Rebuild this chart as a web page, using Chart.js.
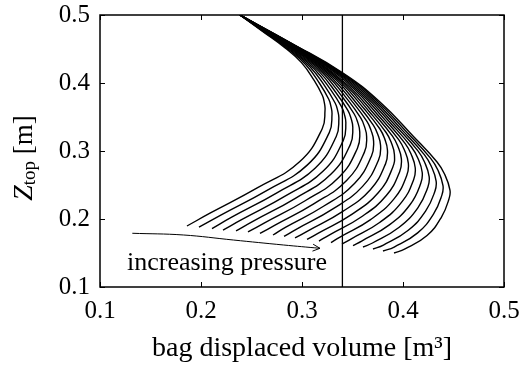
<!DOCTYPE html>
<html><head><meta charset="utf-8">
<script src="https://cdn.jsdelivr.net/npm/chart.js@4"></script>
<style>html,body{margin:0;padding:0;background:#fff;} canvas{display:block;}</style>
</head><body>
<canvas id="c" width="523" height="365"></canvas>
<script>
// ---- data ----
const xTickValues = [0.1, 0.2, 0.3, 0.4, 0.5];
const yTickValues = [0.1, 0.2, 0.3, 0.4, 0.5];

// one curve per pressure level: [bag displaced volume, Z_top]
const curve01 = [[0.2386,0.5],[0.2610,0.4759],[0.2833,0.4516],[0.2995,0.4300],[0.3122,0.4034],[0.3202,0.3815],[0.3220,0.3718],[0.3228,0.3603],[0.3200,0.3328],[0.2976,0.2841],[0.2561,0.2460],[0.2089,0.2085],[0.1861,0.1897]];
const curve02 = [[0.2386,0.5],[0.2626,0.4749],[0.2865,0.4496],[0.3038,0.4268],[0.3176,0.3989],[0.3265,0.3761],[0.3286,0.3659],[0.3297,0.3538],[0.3270,0.3271],[0.3054,0.2796],[0.2654,0.2421],[0.2196,0.2056],[0.1980,0.1882]];
const curve03 = [[0.2386,0.5],[0.2642,0.4739],[0.2897,0.4475],[0.3081,0.4236],[0.3231,0.3944],[0.3328,0.3706],[0.3352,0.3601],[0.3365,0.3472],[0.3339,0.3213],[0.3132,0.2751],[0.2747,0.2382],[0.2304,0.2027],[0.2109,0.1860]];
const curve04 = [[0.2386,0.5],[0.2659,0.4729],[0.2928,0.4455],[0.3125,0.4203],[0.3285,0.3899],[0.3391,0.3652],[0.3419,0.3542],[0.3434,0.3407],[0.3409,0.3156],[0.3210,0.2706],[0.2841,0.2343],[0.2411,0.1997],[0.2218,0.1838]];
const curve05 = [[0.2386,0.5],[0.2675,0.4719],[0.2960,0.4434],[0.3168,0.4171],[0.3339,0.3853],[0.3454,0.3598],[0.3485,0.3483],[0.3503,0.3341],[0.3479,0.3098],[0.3288,0.2661],[0.2934,0.2304],[0.2518,0.1968],[0.2347,0.1824]];
const curve06 = [[0.2386,0.5],[0.2691,0.4710],[0.2992,0.4414],[0.3211,0.4139],[0.3393,0.3808],[0.3517,0.3544],[0.3551,0.3425],[0.3572,0.3276],[0.3549,0.3041],[0.3366,0.2615],[0.3027,0.2265],[0.2625,0.1939],[0.2465,0.1809]];
const curve07 = [[0.2386,0.5],[0.2707,0.4700],[0.3024,0.4393],[0.3254,0.4107],[0.3448,0.3763],[0.3580,0.3489],[0.3617,0.3366],[0.3640,0.3211],[0.3618,0.2983],[0.3444,0.2570],[0.3120,0.2226],[0.2733,0.1910],[0.2584,0.1787]];
const curve08 = [[0.2386,0.5],[0.2723,0.4690],[0.3056,0.4373],[0.3297,0.4075],[0.3502,0.3718],[0.3643,0.3435],[0.3683,0.3307],[0.3709,0.3145],[0.3688,0.2926],[0.3522,0.2525],[0.3213,0.2187],[0.2840,0.1880],[0.2713,0.1765]];
const curve09 = [[0.2386,0.5],[0.2739,0.4680],[0.3088,0.4352],[0.3340,0.4043],[0.3556,0.3673],[0.3706,0.3381],[0.3749,0.3249],[0.3778,0.3080],[0.3758,0.2868],[0.3600,0.2480],[0.3306,0.2148],[0.2947,0.1851],[0.2822,0.1743]];
const curve10 = [[0.2386,0.5],[0.2756,0.4670],[0.3119,0.4332],[0.3384,0.4010],[0.3611,0.3628],[0.3770,0.3327],[0.3816,0.3190],[0.3846,0.3015],[0.3827,0.2811],[0.3679,0.2435],[0.3400,0.2108],[0.3055,0.1822],[0.2931,0.1721]];
const curve11 = [[0.2386,0.5],[0.2772,0.4660],[0.3151,0.4311],[0.3427,0.3978],[0.3665,0.3582],[0.3833,0.3272],[0.3882,0.3131],[0.3915,0.2949],[0.3897,0.2754],[0.3757,0.2390],[0.3493,0.2069],[0.3162,0.1793],[0.3050,0.1699]];
const curve12 = [[0.2386,0.5],[0.2788,0.4650],[0.3183,0.4291],[0.3470,0.3946],[0.3719,0.3537],[0.3896,0.3218],[0.3948,0.3073],[0.3984,0.2884],[0.3967,0.2696],[0.3835,0.2345],[0.3586,0.2030],[0.3269,0.1764],[0.3168,0.1676]];
const curve13 = [[0.2386,0.5],[0.2804,0.4640],[0.3215,0.4270],[0.3513,0.3914],[0.3773,0.3492],[0.3959,0.3164],[0.4014,0.3014],[0.4053,0.2818],[0.4037,0.2639],[0.3913,0.2300],[0.3679,0.1991],[0.3376,0.1734],[0.3287,0.1654]];
const curve14 = [[0.2386,0.5],[0.2820,0.4630],[0.3247,0.4250],[0.3556,0.3882],[0.3828,0.3447],[0.4022,0.3109],[0.4080,0.2955],[0.4121,0.2753],[0.4106,0.2581],[0.3991,0.2255],[0.3772,0.1952],[0.3484,0.1705],[0.3396,0.1632]];
const curve15 = [[0.2386,0.5],[0.2836,0.4621],[0.3279,0.4229],[0.3599,0.3850],[0.3882,0.3402],[0.4085,0.3055],[0.4146,0.2897],[0.4190,0.2688],[0.4176,0.2524],[0.4069,0.2209],[0.3865,0.1913],[0.3591,0.1676],[0.3505,0.1610]];
const curve16 = [[0.2386,0.5],[0.2853,0.4611],[0.3310,0.4209],[0.3643,0.3817],[0.3936,0.3356],[0.4148,0.3001],[0.4213,0.2838],[0.4259,0.2622],[0.4246,0.2466],[0.4147,0.2164],[0.3959,0.1874],[0.3698,0.1647],[0.3604,0.1588]];
const curve17 = [[0.2386,0.5],[0.2869,0.4601],[0.3342,0.4188],[0.3686,0.3785],[0.3990,0.3311],[0.4211,0.2947],[0.4279,0.2779],[0.4328,0.2557],[0.4316,0.2409],[0.4225,0.2119],[0.4052,0.1835],[0.3806,0.1617],[0.3703,0.1559]];
const curve18 = [[0.2386,0.5],[0.2885,0.4591],[0.3374,0.4168],[0.3729,0.3753],[0.4045,0.3266],[0.4274,0.2892],[0.4345,0.2721],[0.4396,0.2491],[0.4385,0.2351],[0.4303,0.2074],[0.4145,0.1796],[0.3913,0.1588],[0.3802,0.1529]];
const curve19 = [[0.2386,0.5],[0.2901,0.4581],[0.3406,0.4147],[0.3772,0.3721],[0.4099,0.3221],[0.4337,0.2838],[0.4411,0.2662],[0.4465,0.2426],[0.4455,0.2294],[0.4381,0.2029],[0.4238,0.1757],[0.4020,0.1559],[0.3911,0.1500]];

const limitLineX = [0.34, 0.34];
const limitLineY = [0.1, 0.5];

const arrowPath = [[0.1320,0.1790],[0.1825,0.1765],[0.2320,0.1691],[0.2815,0.1618],[0.3178,0.1569]];
const arrowLabel = 'increasing pressure';
const arrowLabelPos = [0.2257, 0.125];

const xTitle = 'bag displaced volume [m\u00B3]';
const yTitleMain = 'Z', yTitleSub = 'top', yTitleUnit = ' [m]';

// ---- chart ----
const serif = '"Liberation Serif", "Times New Roman", serif';
const curves = [curve01,curve02,curve03,curve04,curve05,curve06,curve07,curve08,curve09,curve10,
                curve11,curve12,curve13,curve14,curve15,curve16,curve17,curve18,curve19];

const toXY = arr => arr.map(p => ({x: p[0], y: p[1]}));
const datasets = curves.map(c => ({
  data: toXY(c), borderColor: '#000', borderWidth: 1.4, pointRadius: 0,
  tension: 0.45, fill: false
}));
datasets.push({
  data: limitLineY.map((v, i) => ({x: limitLineX[i], y: v})),
  borderColor: '#000', borderWidth: 1.3, pointRadius: 0, tension: 0, fill: false
});
datasets.push({
  data: toXY(arrowPath), borderColor: '#000', borderWidth: 1, pointRadius: 0,
  tension: 0.4, fill: false
});

const decor = {
  id: 'decor',
  afterDatasetsDraw(chart) {
    const {ctx, chartArea: a} = chart;
    const xs = chart.scales.x, ys = chart.scales.y;
    ctx.save();
    ctx.strokeStyle = '#000';
    // frame
    ctx.lineWidth = 1.5;
    ctx.strokeRect(a.left, a.top, a.right - a.left, a.bottom - a.top);
    // inward ticks
    ctx.lineWidth = 1;
    const L = 5;
    ctx.beginPath();
    xs.ticks.forEach(t => {
      const px = Math.round(xs.getPixelForValue(t.value)) + 0.5;
      ctx.moveTo(px, a.bottom); ctx.lineTo(px, a.bottom - L);
      ctx.moveTo(px, a.top); ctx.lineTo(px, a.top + L);
    });
    ys.ticks.forEach(t => {
      const py = Math.round(ys.getPixelForValue(t.value)) + 0.5;
      ctx.moveTo(a.left, py); ctx.lineTo(a.left + L, py);
      ctx.moveTo(a.right, py); ctx.lineTo(a.right - L, py);
    });
    ctx.stroke();
    // arrow head
    const n = arrowPath.length;
    const x1 = xs.getPixelForValue(arrowPath[n-2][0]), y1 = ys.getPixelForValue(arrowPath[n-2][1]);
    const x2 = xs.getPixelForValue(arrowPath[n-1][0]), y2 = ys.getPixelForValue(arrowPath[n-1][1]);
    const ang = Math.atan2(y2 - y1, x2 - x1);
    const hl = 8, ha = 0.45;
    ctx.beginPath();
    ctx.moveTo(x2 - hl * Math.cos(ang - ha), y2 - hl * Math.sin(ang - ha));
    ctx.lineTo(x2, y2);
    ctx.lineTo(x2 - hl * Math.cos(ang + ha), y2 - hl * Math.sin(ang + ha));
    ctx.stroke();
    // annotation text
    ctx.fillStyle = '#000';
    ctx.font = '26px ' + serif;
    ctx.textAlign = 'center';
    ctx.textBaseline = 'alphabetic';
    ctx.fillText(arrowLabel, xs.getPixelForValue(arrowLabelPos[0]), ys.getPixelForValue(arrowLabelPos[1]));
    // y axis title with subscript
    ctx.translate(32, (a.top + a.bottom) / 2 + 7);
    ctx.rotate(-Math.PI / 2);
    ctx.textAlign = 'left';
    const fMain = 'italic 28px ' + serif, fSub = '19px ' + serif, fUnit = '27px ' + serif;
    ctx.font = fMain; const w1 = ctx.measureText(yTitleMain).width;
    ctx.font = fSub; const w2 = ctx.measureText(yTitleSub).width;
    ctx.font = fUnit; const w3 = ctx.measureText(yTitleUnit).width;
    let x0 = -(w1 + w2 + w3) / 2;
    ctx.font = fMain; ctx.fillText(yTitleMain, x0, 0); x0 += w1;
    ctx.font = fSub; ctx.fillText(yTitleSub, x0, 3); x0 += w2;
    ctx.font = fUnit; ctx.fillText(yTitleUnit, x0, 0);
    ctx.restore();
  }
};

new Chart(document.getElementById('c'), {
  type: 'line',
  data: {datasets},
  options: {
    responsive: false,
    devicePixelRatio: 1,
    animation: false,
    events: [],
    layout: {padding: {top: 15, right: 19, left: 0, bottom: 0}},
    plugins: {legend: {display: false}, tooltip: {enabled: false}},
    scales: {
      x: {
        type: 'linear', min: 0.1, max: 0.5,
        afterBuildTicks: s => { s.ticks = xTickValues.map(v => ({value: v})); },
        ticks: {color: '#000', font: {family: serif, size: 25}, padding: 9,
                callback: v => Number(v).toFixed(1), maxRotation: 0},
        grid: {display: false, drawTicks: false},
        border: {display: false},
        title: {display: true, text: xTitle, color: '#000', font: {family: serif, size: 28},
                padding: {top: 0, bottom: 0}},
        afterFit: s => { s.height = 78; s.paddingLeft = 0; s.paddingRight = 0; }
      },
      y: {
        type: 'linear', min: 0.1, max: 0.5,
        afterBuildTicks: s => { s.ticks = yTickValues.map(v => ({value: v})); },
        ticks: {color: '#000', font: {family: serif, size: 25}, padding: 10,
                callback: v => Number(v).toFixed(1)},
        grid: {display: false, drawTicks: false},
        border: {display: false},
        afterFit: s => { s.width = 100; s.paddingTop = 0; s.paddingBottom = 0; }
      }
    }
  },
  plugins: [decor]
});
</script>
</body></html>
